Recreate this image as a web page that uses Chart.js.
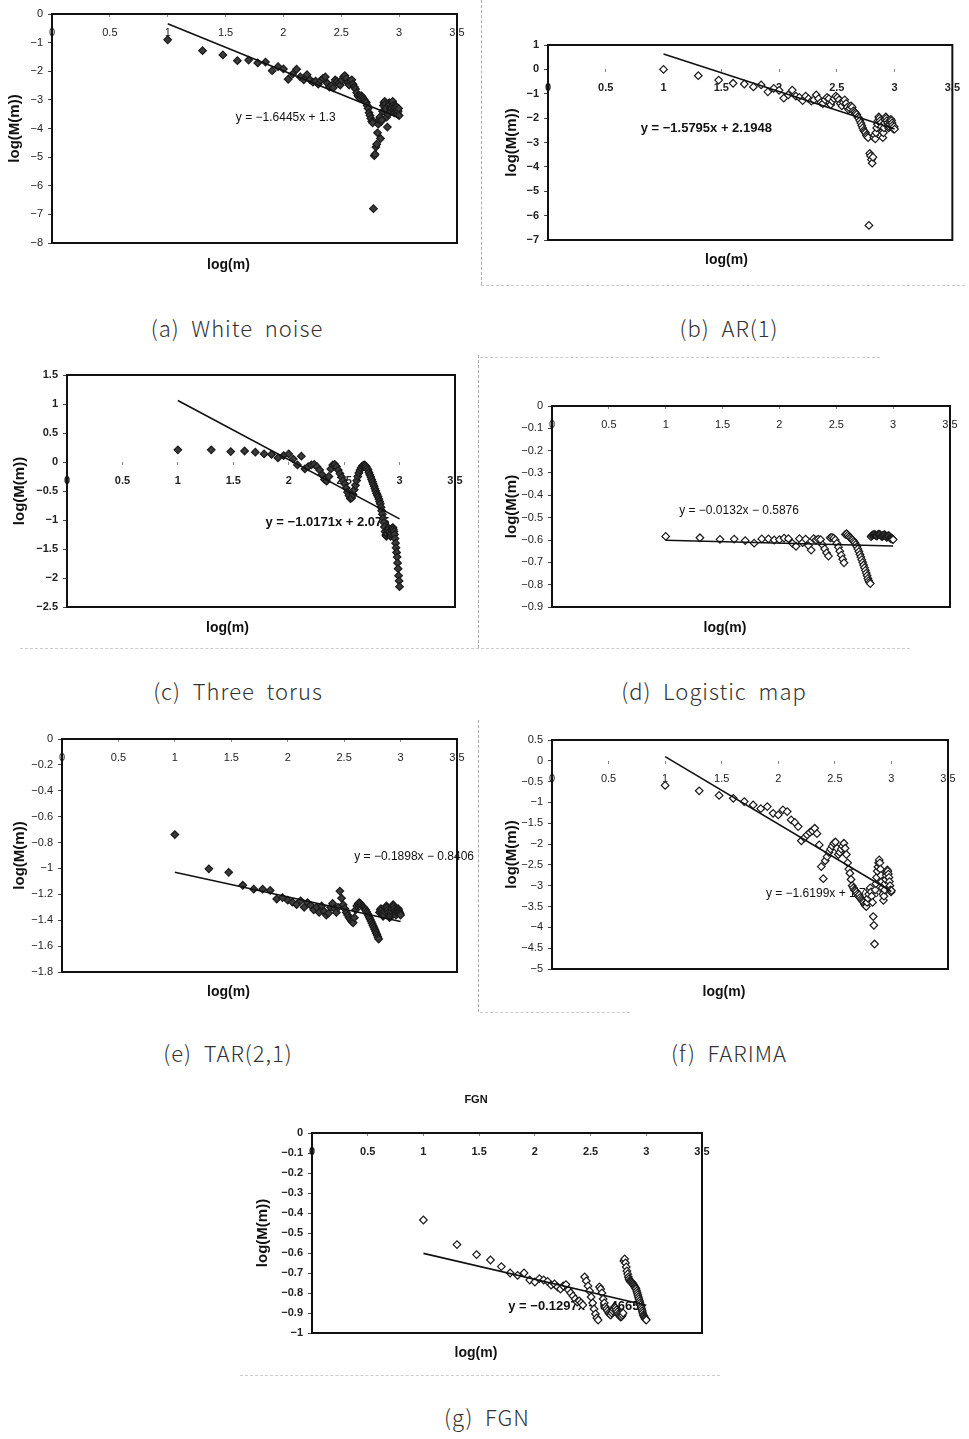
<!DOCTYPE html>
<html>
<head>
<meta charset="utf-8">
<script src="https://cdn.jsdelivr.net/npm/chart.js@4.4.0/dist/chart.umd.min.js"></script>
<style>
body{margin:0;background:#fff;width:969px;height:1439px;position:relative;overflow:hidden}
canvas{position:absolute}
.cap{position:absolute;font-family:"Noto Sans CJK KR","Noto Sans",sans-serif;font-weight:300;font-size:22px;letter-spacing:1px;color:#333;white-space:pre;transform:translate(-50%,-50%)}
.dash{position:absolute;border:0 dashed #aaa}
</style>
</head>
<body>
<div class="cap" style="left:237px;top:327px">(a)  White  noise</div>
<div class="cap" style="left:729px;top:327px">(b)  AR(1)</div>
<div class="cap" style="left:238px;top:690px">(c)  Three  torus</div>
<div class="cap" style="left:714px;top:690px">(d)  Logistic  map</div>
<div class="cap" style="left:228px;top:1052px">(e)  TAR(2,1)</div>
<div class="cap" style="left:729px;top:1052px">(f)  FARIMA</div>
<div class="cap" style="left:487px;top:1416px">(g)  FGN</div>

<div class="dash" style="left:481px;top:0;height:285px;border-left-width:1px"></div>
<div class="dash" style="left:481px;top:285px;width:484px;border-top-width:1px;border-color:#ccc"></div>
<div class="dash" style="left:478px;top:355px;height:293px;border-left-width:1px"></div>
<div class="dash" style="left:480px;top:357px;width:400px;border-top-width:1px;border-color:#ccc"></div>
<div class="dash" style="left:20px;top:648px;width:890px;border-top-width:1px;border-color:#ccc"></div>
<div class="dash" style="left:478px;top:720px;height:292px;border-left-width:1px"></div>
<div class="dash" style="left:480px;top:1012px;width:150px;border-top-width:1px;border-color:#ccc"></div>
<div class="dash" style="left:240px;top:1375px;width:480px;border-top-width:1px;border-color:#ccc"></div>

<script>
// log(m) for m = 10, 20, ..., 1000
var logM = [1.000,1.301,1.477,1.602,1.699,1.778,1.845,1.903,1.954,2.000,
  2.041,2.079,2.114,2.146,2.176,2.204,2.230,2.255,2.279,2.301,
  2.322,2.342,2.362,2.380,2.398,2.415,2.431,2.447,2.462,2.477,
  2.491,2.505,2.519,2.531,2.544,2.556,2.568,2.580,2.591,2.602,
  2.613,2.623,2.633,2.643,2.653,2.663,2.672,2.681,2.690,2.699,
  2.708,2.716,2.724,2.732,2.740,2.748,2.756,2.763,2.771,2.778,
  2.785,2.792,2.799,2.806,2.813,2.820,2.826,2.833,2.839,2.845,
  2.851,2.857,2.863,2.869,2.875,2.881,2.886,2.892,2.898,2.903,
  2.908,2.914,2.919,2.924,2.929,2.934,2.940,2.944,2.949,2.954,
  2.959,2.964,2.968,2.973,2.978,2.982,2.987,2.991,2.996,3.000];

var whiteNoise = [-0.90,-1.28,-1.43,-1.63,-1.61,-1.71,-1.68,-1.98,-1.84,-1.92,
  -2.28,-2.10,-1.93,-2.20,-2.30,-2.12,-2.30,-2.38,-2.35,-2.45,
  -2.32,-2.25,-2.20,-2.42,-2.55,-2.50,-2.58,-2.30,-2.35,-2.42,
  -2.48,-2.32,-2.20,-2.15,-2.25,-2.40,-2.48,-2.35,-2.30,-2.45,
  -2.55,-2.62,-2.75,-2.85,-2.90,-2.95,-2.85,-2.90,-2.95,-3.00,
  -3.05,-3.10,-3.20,-3.30,-3.45,-3.55,-3.65,-3.75,-3.80,-6.80,
  -4.95,-4.90,-4.65,-4.55,-4.15,-3.85,-3.70,-3.60,-4.35,-3.75,
  -3.70,-3.40,-3.20,-3.10,-3.05,-3.15,-3.30,-3.60,-3.95,-3.50,
  -3.20,-3.10,-3.15,-3.30,-3.40,-3.30,-3.10,-3.05,-3.20,-3.35,
  -3.45,-3.30,-3.20,-3.25,-3.35,-3.45,-3.50,-3.40,-3.30,-3.55];

var ar1 = [0.00,-0.26,-0.44,-0.57,-0.60,-0.72,-0.64,-0.92,-0.78,-0.86,
  -1.18,-1.05,-0.85,-1.10,-1.15,-1.28,-1.10,-1.20,-1.30,-1.25,
  -1.05,-1.20,-1.35,-1.40,-1.25,-1.15,-1.20,-1.45,-1.30,-1.20,
  -1.10,-1.15,-1.25,-1.40,-1.50,-1.35,-1.25,-1.40,-1.55,-1.65,
  -1.60,-1.50,-1.55,-1.70,-1.75,-1.80,-1.85,-1.95,-2.00,-2.10,
  -2.20,-2.30,-2.40,-2.50,-2.55,-2.60,-2.70,-2.75,-2.80,-6.40,
  -3.45,-3.55,-3.70,-3.85,-3.60,-2.80,-2.70,-2.85,-2.60,-2.40,
  -2.25,-2.10,-1.95,-2.00,-2.10,-2.20,-2.35,-2.55,-2.80,-2.60,
  -2.40,-2.20,-2.05,-1.95,-2.00,-2.10,-2.20,-2.30,-2.40,-2.35,
  -2.25,-2.15,-2.05,-2.10,-2.20,-2.30,-2.40,-2.45,-2.35,-2.45];

var threeTorus = [0.21,0.21,0.18,0.19,0.17,0.14,0.13,0.07,0.11,0.14,
  0.05,-0.05,0.10,-0.12,-0.08,-0.05,-0.04,-0.08,-0.14,-0.22,
  -0.30,-0.33,-0.25,-0.12,-0.05,-0.04,-0.08,-0.14,-0.20,-0.26,
  -0.32,-0.38,-0.45,-0.52,-0.58,-0.63,-0.62,-0.56,-0.48,-0.40,
  -0.32,-0.25,-0.19,-0.14,-0.10,-0.07,-0.06,-0.05,-0.06,-0.08,
  -0.11,-0.14,-0.18,-0.22,-0.26,-0.30,-0.34,-0.38,-0.42,-0.46,
  -0.50,-0.54,-0.57,-0.60,-0.64,-0.68,-0.72,-0.78,-0.84,-0.90,
  -0.97,-1.04,-1.12,-1.20,-1.26,-1.28,-1.24,-1.18,-1.14,-1.15,
  -1.20,-1.26,-1.28,-1.24,-1.18,-1.14,-1.13,-1.16,-1.20,-1.25,
  -1.32,-1.40,-1.48,-1.56,-1.64,-1.74,-1.84,-1.96,-2.05,-2.15];

var logisticMap = [-0.584,-0.590,-0.597,-0.596,-0.603,-0.614,-0.595,-0.595,-0.600,-0.598,
  -0.592,-0.594,-0.615,-0.628,-0.594,-0.612,-0.596,-0.625,-0.645,-0.594,
  -0.600,-0.596,-0.598,-0.622,-0.640,-0.658,-0.672,-0.590,-0.588,-0.592,
  -0.600,-0.615,-0.632,-0.650,-0.668,-0.686,-0.702,-0.575,-0.572,-0.578,
  -0.585,-0.590,-0.596,-0.600,-0.606,-0.612,-0.620,-0.630,-0.640,-0.652,
  -0.664,-0.676,-0.688,-0.700,-0.712,-0.724,-0.736,-0.748,-0.760,-0.772,
  -0.782,-0.790,-0.795,-0.585,-0.580,-0.578,-0.576,-0.575,-0.576,-0.578,
  -0.580,-0.582,-0.578,-0.575,-0.574,-0.575,-0.577,-0.580,-0.583,-0.585,
  -0.582,-0.579,-0.577,-0.576,-0.578,-0.581,-0.585,-0.588,-0.586,-0.583,
  -0.580,-0.582,-0.586,-0.590,-0.593,-0.595,-0.592,-0.594,-0.597,-0.598];

var tar21 = [-0.738,-1.003,-1.030,-1.130,-1.160,-1.160,-1.170,-1.236,-1.225,-1.245,
  -1.260,-1.280,-1.250,-1.300,-1.265,-1.285,-1.320,-1.300,-1.340,-1.290,
  -1.330,-1.360,-1.345,-1.300,-1.270,-1.310,-1.340,-1.300,-1.175,-1.230,
  -1.280,-1.310,-1.340,-1.360,-1.380,-1.395,-1.410,-1.420,-1.380,-1.320,
  -1.290,-1.275,-1.265,-1.270,-1.285,-1.295,-1.300,-1.310,-1.320,-1.335,
  -1.350,-1.365,-1.380,-1.395,-1.410,-1.425,-1.440,-1.455,-1.470,-1.485,
  -1.500,-1.515,-1.530,-1.545,-1.340,-1.320,-1.310,-1.320,-1.350,-1.370,
  -1.360,-1.330,-1.310,-1.300,-1.290,-1.300,-1.320,-1.340,-1.360,-1.380,
  -1.370,-1.350,-1.330,-1.310,-1.290,-1.280,-1.290,-1.310,-1.330,-1.350,
  -1.360,-1.340,-1.330,-1.320,-1.310,-1.320,-1.330,-1.340,-1.350,-1.360];

var farima = [-0.59,-0.72,-0.83,-0.90,-0.98,-1.06,-1.15,-1.10,-1.26,-1.30,
  -1.18,-1.22,-1.42,-1.48,-1.58,-1.92,-1.85,-1.78,-1.72,-1.68,
  -1.62,-1.75,-2.02,-2.54,-2.83,-2.40,-2.30,-2.20,-2.12,-2.05,
  -1.98,-1.95,-2.10,-2.25,-2.20,-2.12,-2.05,-1.98,-2.10,-2.25,
  -2.45,-2.60,-2.70,-2.85,-3.00,-3.05,-3.10,-3.12,-3.15,-3.20,
  -3.25,-3.22,-3.28,-3.32,-3.35,-3.38,-3.40,-3.45,-3.48,-3.50,
  -3.40,-3.30,-3.20,-3.10,-3.05,-3.15,-3.25,-3.40,-3.74,-3.95,
  -4.40,-3.10,-2.95,-2.80,-2.65,-2.55,-2.45,-2.38,-2.45,-2.60,
  -2.75,-2.90,-3.05,-3.20,-3.35,-3.25,-3.10,-2.95,-2.85,-2.75,
  -2.68,-2.62,-2.65,-2.72,-2.80,-2.90,-3.00,-3.10,-3.15,-3.12];

var fgn = [-0.435,-0.558,-0.608,-0.635,-0.668,-0.700,-0.712,-0.700,-0.735,-0.745,
  -0.728,-0.735,-0.742,-0.760,-0.755,-0.770,-0.780,-0.765,-0.758,-0.785,
  -0.800,-0.815,-0.830,-0.845,-0.840,-0.850,-0.860,-0.720,-0.740,-0.765,
  -0.790,-0.820,-0.850,-0.880,-0.905,-0.925,-0.935,-0.770,-0.780,-0.800,
  -0.830,-0.850,-0.870,-0.880,-0.890,-0.900,-0.905,-0.910,-0.900,-0.890,
  -0.880,-0.870,-0.875,-0.885,-0.895,-0.905,-0.910,-0.915,-0.920,-0.918,
  -0.910,-0.900,-0.640,-0.630,-0.650,-0.670,-0.690,-0.705,-0.720,-0.730,
  -0.738,-0.742,-0.745,-0.748,-0.750,-0.755,-0.760,-0.765,-0.770,-0.775,
  -0.780,-0.790,-0.800,-0.810,-0.820,-0.830,-0.840,-0.850,-0.860,-0.870,
  -0.880,-0.890,-0.900,-0.910,-0.915,-0.920,-0.925,-0.930,-0.933,-0.935];

// fitted trend lines, y at x = 1 and x = 3
var trendX = [1, 3];
var trendWhiteNoise = [-0.34, -3.63];
var trendAr1 = [0.63, -2.45];
var trendThreeTorus = [1.06, -0.98];
var trendLogistic = [-0.601, -0.627];
var trendTar = [-1.03, -1.41];
var trendFarima = [0.10, -3.14];
var trendFgn = [-0.602, -0.861];

var FONT = '"Liberation Sans", Arial, sans-serif';

function fmt(v) {
	var s = String(Math.round(v * 100) / 100);
	if (s === '-0') s = '0';
	return s.replace('-', '\u2212');
}

function toPoints(xs, ys) {
	return xs.map(function(x, i) { return {x: x, y: ys[i]}; });
}

var panelPlugin = {
	id: 'panel',
	beforeDatasetsDraw: function(chart, args, o) {
		var ctx = chart.ctx;
		ctx.save();
		ctx.font = (o.bold ? 'bold ' : '') + o.size + 'px ' + FONT;
		ctx.fillStyle = '#111';
		ctx.textAlign = 'center';
		ctx.textBaseline = 'middle';
		ctx.fillText(o.text, chart.scales.x.getPixelForValue(o.x), chart.scales.y.getPixelForValue(o.y));
		ctx.restore();
	},
	afterDatasetsDraw: function(chart) {
		var a = chart.chartArea, ctx = chart.ctx;
		ctx.save();
		ctx.strokeStyle = '#111';
		ctx.lineWidth = 2;
		ctx.strokeRect(a.left, a.top, a.right - a.left, a.bottom - a.top);
		ctx.restore();
	}
};

function makePanel(p) {
	var cv = document.createElement('canvas');
	cv.width = p.w; cv.height = p.h;
	cv.style.left = p.left + 'px'; cv.style.top = p.top + 'px';
	document.body.appendChild(cv);

	var wt = p.bold ? 'bold' : 'normal';
	var tickFont = {family: FONT, size: 11, weight: wt};

	new Chart(cv, {
		type: 'scatter',
		data: {
			datasets: [{
				type: 'line',
				data: toPoints(trendX, p.trend),
				borderColor: '#111', borderWidth: 1.6,
				pointRadius: 0, fill: false, tension: 0
			}, {
				data: toPoints(logM, p.values),
				pointStyle: 'rectRot', pointRadius: 3.8,
				borderColor: '#1a1a1a', borderWidth: 1.2,
				backgroundColor: p.fill
			}]
		},
		options: {
			responsive: false, animation: false, devicePixelRatio: 1,
			layout: {padding: {top: p.padTop, right: p.w + p.left - p.R, bottom: 0, left: 0}},
			plugins: {
				legend: {display: false},
				tooltip: {enabled: false},
				title: {
					display: !!p.title, text: p.title || '', color: '#111',
					font: {family: FONT, size: 11, weight: 'bold', lineHeight: '14px'},
					padding: {top: 8, bottom: 26}
				},
				subtitle: {
					display: true, position: 'bottom', text: 'log(m)', color: '#111',
					font: {family: FONT, size: 14, weight: 'bold', lineHeight: '14px'},
					padding: {top: p.subPad, bottom: 2}
				},
				panel: {text: p.eq, x: p.eqX, y: p.eqY, bold: p.bold, size: p.eqSize}
			},
			scales: {
				x: {
					type: 'linear', position: {y: 0}, min: 0, max: 3.5,
					ticks: {stepSize: 0.5, autoSkip: false, maxRotation: 0, padding: 9,
						color: '#222', font: tickFont, callback: fmt},
					grid: {drawOnChartArea: false, tickLength: 3, color: '#888'},
					border: {display: false}
				},
				y: {
					type: 'linear', position: 'left', min: p.ymin, max: p.ymax,
					ticks: {stepSize: p.ystep, autoSkip: false, padding: 5,
						color: '#222', font: tickFont, callback: fmt},
					grid: {drawOnChartArea: false, tickLength: 4, color: '#444'},
					border: {display: false},
					title: {display: true, text: p.ytitle, color: '#111',
						font: {family: FONT, size: 15, weight: 'bold', lineHeight: '14px'},
						padding: {top: p.ytPad, bottom: 0}},
					afterFit: function(s) { s.width = p.L - p.left; }
				}
			}
		},
		plugins: [panelPlugin]
	});
}

makePanel({left: 0, top: 0, w: 477, h: 274, L: 52, R: 457, padTop: 14, ytPad: 8, subPad: 15,
	values: whiteNoise, trend: trendWhiteNoise, fill: '#3a3a3a', bold: false,
	ymin: -8, ymax: 0, ystep: 1, ytitle: 'log(M(m))',
	eq: 'y = \u22121.6445x + 1.3', eqX: 2.02, eqY: -3.63, eqSize: 12});

makePanel({left: 500, top: 30, w: 469, h: 239, L: 548, R: 953, padTop: 15, ytPad: 5, subPad: 13,
	values: ar1, trend: trendAr1, fill: '#ffffff', bold: true,
	ymin: -7, ymax: 1, ystep: 1, ytitle: 'log(M(m))',
	eq: 'y = \u22121.5795x + 2.1948', eqX: 1.37, eqY: -2.44, eqSize: 13});

makePanel({left: 0, top: 360, w: 475, h: 277, L: 67, R: 455, padTop: 15, ytPad: 13, subPad: 14,
	values: threeTorus, trend: trendThreeTorus, fill: '#3a3a3a', bold: true,
	ymin: -2.5, ymax: 1.5, ystep: 0.5, ytitle: 'log(M(m))',
	eq: 'y = \u22121.0171x + 2.075', eqX: 2.35, eqY: -1.05, eqSize: 13});

makePanel({left: 500, top: 392, w: 468, h: 245, L: 552, R: 950, padTop: 14, ytPad: 5, subPad: 14,
	values: logisticMap, trend: trendLogistic, fill: '#ffffff', bold: false,
	ymin: -0.9, ymax: 0, ystep: 0.1, ytitle: 'log(M(m)',
	eq: 'y = \u22120.0132x \u2212 0.5876', eqX: 1.645, eqY: -0.47, eqSize: 12});

makePanel({left: 0, top: 725, w: 477, h: 276, L: 62, R: 457, padTop: 14, ytPad: 13, subPad: 13,
	values: tar21, trend: trendTar, fill: '#3a3a3a', bold: false,
	ymin: -1.8, ymax: 0, ystep: 0.2, ytitle: 'log(M(m))',
	eq: 'y = \u22120.1898x \u2212 0.8406', eqX: 3.12, eqY: -0.912, eqSize: 12});

makePanel({left: 500, top: 726, w: 466, h: 275, L: 552, R: 948, padTop: 14, ytPad: 5, subPad: 16,
	values: farima, trend: trendFarima, fill: '#ffffff', bold: false,
	ymin: -5, ymax: 0.5, ystep: 0.5, ytitle: 'log(M(m))',
	eq: 'y = \u22121.6199x + 1.7239', eqX: 2.42, eqY: -3.18, eqSize: 12});

makePanel({left: 250, top: 1085, w: 472, h: 277, L: 312, R: 702, padTop: 0, ytPad: 6, subPad: 13,
	values: fgn, trend: trendFgn, fill: '#ffffff', bold: true, title: 'FGN',
	ymin: -1, ymax: 0, ystep: 0.1, ytitle: 'log(M(m))',
	eq: 'y = \u22120.1297x \u2212 0.4665', eqX: 2.35, eqY: -0.865, eqSize: 13});
</script>
</body>
</html>
